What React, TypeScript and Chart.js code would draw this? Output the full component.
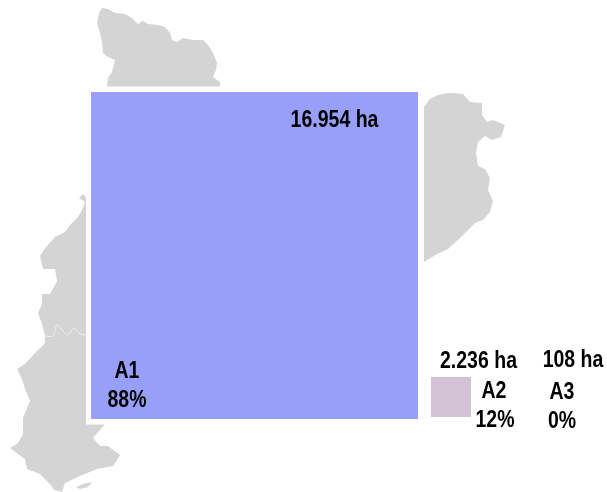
import React, { useEffect, useRef } from "react";
import { Chart, registerables } from "chart.js";

Chart.register(...registerables);

const categories = ["A1", "A2", "A3"];
const hectares = [16954, 2236, 108];
const percents = [88, 12, 0];
const squareCentreX = [254.5, 451, 562];
const squareCentreY = [255.5, 397, 397];
const squareSide = [327, 40, 0];

const mapOutlineX = [102,108,115,125,132,138,143,148,158,165,170,172,177,183,193,203,208,213,217,216,213,220,220,423,424,430,438,448,452,463,470,482,482,487,493,505,501,492,485,478,476,478,485,490,488,493,490,483,475,468,460,448,437,424,420,107,93,100,108,120,113,97,80,65,62,54,50,40,27,25,18,10,18,23,23,30,25,22,17,25,35,45,45,42,38,42,42,50,57,55,43,40,45,47,55,65,70,78,83,85,79,83,86,100,107,108,112,115,108,103,102,100,97,99];
const mapOutlineY = [8,9,13,14,18,24,21,24,25,27,33,40,42,38,40,40,45,53,63,70,77,82,90,90,107,99,95,93,93,94,102,103,115,122,120,125,137,140,136,142,153,166,169,178,190,201,212,220,223,230,238,249,254,262,265,422,438,446,446,455,466,469,476,483,492,490,484,474,469,459,454,448,443,434,418,401,389,379,369,364,353,343,336,324,313,304,294,294,281,269,269,256,248,246,237,232,225,217,208,202,198,194,197,200,87,78,72,60,57,53,42,33,23,13];
const islandX = [76,83,92,88,80];
const islandY = [487,484,482,487,489];
const riverX = [45,53,57,63,68,74,80,86];
const riverY = [336,336,325,331,335,328,334,335];

const COLORS = ["#989ff8", "#d3c1d6"];
const labelPlaces = [
  { head: [334.5, 127], name: [127, 378], pct: [127, 407] },
  { head: [478.5, 368], name: [494, 398], pct: [495, 427] },
  { head: [573, 367], name: [562, 399], pct: [562, 428] },
];

const zip = (xs: number[], ys: number[]) => xs.map((x, i) => ({ x, y: ys[i] }));
const fmt = (n: number) => String(n).replace(/\B(?=(\d{3})+$)/g, ".");

const labelPlugin = {
  id: "squareLabels",
  afterDatasetsDraw(chart: any) {
    const { ctx, scales } = chart;
    const put = (text: string, p: number[]) => {
      ctx.save();
      ctx.translate(scales.x.getPixelForValue(p[0]), scales.y.getPixelForValue(p[1]));
      ctx.scale(1, 1.2);
      ctx.fillStyle = "#000";
      ctx.font = 'bold 19.5px "Liberation Sans"';
      ctx.textAlign = "center";
      ctx.textBaseline = "alphabetic";
      ctx.fillText(text, 0, 0);
      ctx.restore();
    };
    categories.forEach((c, i) => {
      const l = labelPlaces[i];
      put(`${fmt(hectares[i])} ha`, l.head);
      put(c, l.name);
      put(`${percents[i]}%`, l.pct);
    });
  },
};

export default function App() {
  const ref = useRef<HTMLCanvasElement>(null);
  useEffect(() => {
    const chart = new Chart(ref.current!, {
      type: "scatter",
      data: {
        datasets: [
          {
            label: "map",
            data: zip(mapOutlineX, mapOutlineY),
            showLine: true,
            fill: "shape",
            backgroundColor: "#d4d4d4",
            borderWidth: 0,
            pointRadius: 0,
            order: 6,
          },
          {
            label: "island",
            data: zip(islandX, islandY),
            showLine: true,
            fill: "shape",
            backgroundColor: "#d4d4d4",
            borderWidth: 0,
            pointRadius: 0,
            order: 5,
          },
          {
            label: "river",
            data: zip(riverX, riverY),
            showLine: true,
            fill: false,
            borderColor: "#efefef",
            borderWidth: 1,
            tension: 0.3,
            pointRadius: 0,
            order: 4,
          },
          {
            label: "halo",
            data: [{ x: 255, y: 255.5 }],
            pointStyle: "rect",
            pointRadius: 338 / Math.SQRT2,
            backgroundColor: "#ffffff",
            borderWidth: 0,
            order: 3,
          },
          {
            label: "squares",
            data: zip(squareCentreX, squareCentreY),
            pointStyle: "rect",
            pointRadius: (c: any) => squareSide[c.dataIndex] / Math.SQRT2,
            backgroundColor: (c: any) => COLORS[c.dataIndex] ?? "transparent",
            borderWidth: 0,
            order: 1,
          },
        ],
      },
      options: {
        animation: false,
        responsive: false,
        maintainAspectRatio: false,
        layout: { padding: 0, autoPadding: false },
        plugins: { legend: { display: false }, tooltip: { enabled: false }, title: { display: false } },
        scales: {
          x: { type: "linear", min: 0, max: 607, display: false },
          y: { type: "linear", min: 0, max: 492, reverse: true, display: false },
        },
      } as any,
      plugins: [labelPlugin],
    });
    return () => chart.destroy();
  }, []);
  return (
    <div style={{ position: "absolute", left: 0, top: 0, width: 607, height: 492, background: "#fff", overflow: "hidden" }}>
      <canvas ref={ref} width={607} height={492} style={{ display: "block", filter: "blur(0.4px)" }} />
    </div>
  );
}
